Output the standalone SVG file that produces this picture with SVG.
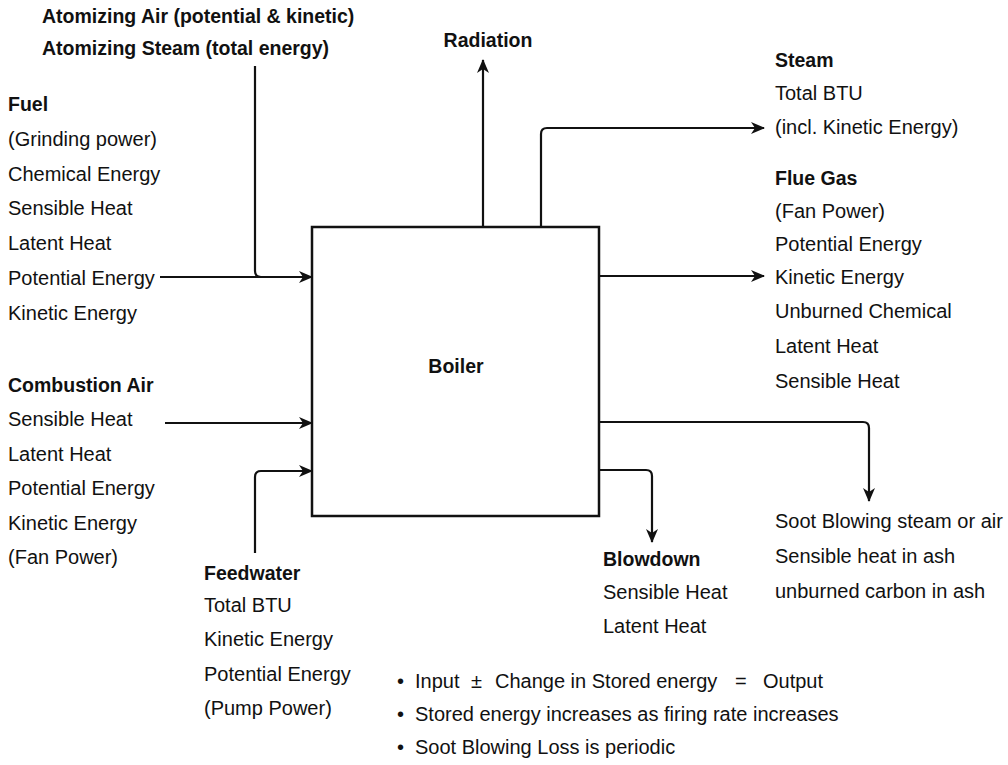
<svg xmlns="http://www.w3.org/2000/svg" width="1008" height="765" viewBox="0 0 1008 765">
<style>
text{font-family:"Liberation Sans",Arial,sans-serif;font-size:20px;fill:#111}
.b{font-weight:bold;font-size:19.5px}
.ln{fill:none;stroke:#111;stroke-width:2.2}
</style>
<defs>
<marker id="ah" markerWidth="14" markerHeight="12" refX="13" refY="6" orient="auto" markerUnits="userSpaceOnUse">
<path d="M0,0 L14,6 L0,12 L4,6 z" fill="#111"/>
</marker>
</defs>
<rect width="1008" height="765" fill="#fff"/>
<g id="boiler">
<rect x="312" y="227" width="287" height="289" fill="none" stroke="#111" stroke-width="2.5"/>
<text class="b" x="456" y="373" text-anchor="middle">Boiler</text>
</g>
<g id="connectors">
<path class="ln" d="M255,66 V271 Q255,277 261,277 H300"/>
<path class="ln" d="M160,277 H312" marker-end="url(#ah)"/>
<path class="ln" d="M165,423 H312" marker-end="url(#ah)"/>
<path class="ln" d="M255,553 V477 Q255,471 261,471 H312" marker-end="url(#ah)"/>
<path class="ln" d="M483,227 V60" marker-end="url(#ah)"/>
<path class="ln" d="M541,227 V134 Q541,128 547,128 H764" marker-end="url(#ah)"/>
<path class="ln" d="M599,276 H764" marker-end="url(#ah)"/>
<path class="ln" d="M599,422 H863 Q869,422 869,428 V501" marker-end="url(#ah)"/>
<path class="ln" d="M599,470 H646 Q652,470 652,476 V542" marker-end="url(#ah)"/>
</g>
<g id="atomizing">
<text class="b" x="42" y="23">Atomizing Air (potential &amp; kinetic)</text>
<text class="b" x="42" y="55">Atomizing Steam (total energy)</text>
</g>
<g id="radiation">
<text class="b" x="488" y="47" text-anchor="middle">Radiation</text>
</g>
<g id="fuel">
<text class="b" x="8" y="111">Fuel</text>
<text x="8" y="146">(Grinding power)</text>
<text x="8" y="181">Chemical Energy</text>
<text x="8" y="215">Sensible Heat</text>
<text x="8" y="250">Latent Heat</text>
<text x="8" y="285">Potential Energy</text>
<text x="8" y="320">Kinetic Energy</text>
</g>
<g id="combustion-air">
<text class="b" x="8" y="392">Combustion Air</text>
<text x="8" y="426">Sensible Heat</text>
<text x="8" y="461">Latent Heat</text>
<text x="8" y="495">Potential Energy</text>
<text x="8" y="530">Kinetic Energy</text>
<text x="8" y="564">(Fan Power)</text>
</g>
<g id="feedwater">
<text class="b" x="204" y="580">Feedwater</text>
<text x="204" y="612">Total BTU</text>
<text x="204" y="646">Kinetic Energy</text>
<text x="204" y="681">Potential Energy</text>
<text x="204" y="715">(Pump Power)</text>
</g>
<g id="steam">
<text class="b" x="775" y="67">Steam</text>
<text x="775" y="100">Total BTU</text>
<text x="775" y="134">(incl. Kinetic Energy)</text>
</g>
<g id="flue-gas">
<text class="b" x="775" y="185">Flue Gas</text>
<text x="775" y="218">(Fan Power)</text>
<text x="775" y="251">Potential Energy</text>
<text x="775" y="284">Kinetic Energy</text>
<text x="775" y="318">Unburned Chemical</text>
<text x="775" y="353">Latent Heat</text>
<text x="775" y="388">Sensible Heat</text>
</g>
<g id="soot-blowing">
<text x="775" y="528">Soot Blowing steam or air</text>
<text x="775" y="563">Sensible heat in ash</text>
<text x="775" y="598">unburned carbon in ash</text>
</g>
<g id="blowdown">
<text class="b" x="603" y="566">Blowdown</text>
<text x="603" y="599">Sensible Heat</text>
<text x="603" y="633">Latent Heat</text>
</g>
<g id="notes">
<text x="397" y="688">•</text>
<text x="415" y="688">Input</text>
<text x="471" y="688">±</text>
<text x="495" y="688">Change in Stored energy</text>
<text x="735" y="688">=</text>
<text x="763" y="688">Output</text>
<text x="397" y="721">•</text>
<text x="415" y="721">Stored energy increases as firing rate increases</text>
<text x="397" y="754">•</text>
<text x="415" y="754">Soot Blowing Loss is periodic</text>
</g>
</svg>
